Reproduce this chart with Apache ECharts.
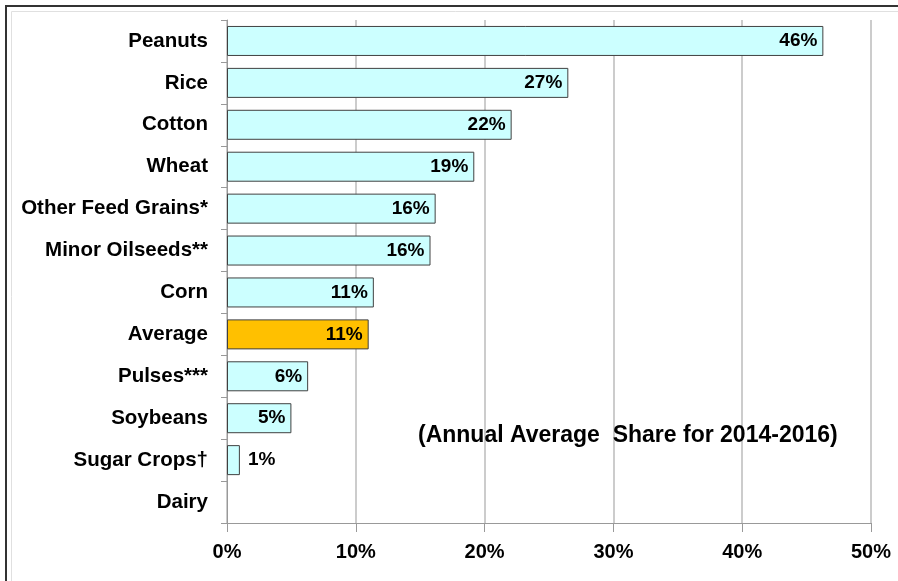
<!DOCTYPE html>
<html>
<head>
<meta charset="utf-8">
<script src="https://cdn.jsdelivr.net/npm/echarts@6/dist/echarts.min.js"></script>
<style>
html,body{margin:0;padding:0;background:#fff;}
#chart{width:898px;height:581px;}
</style>
</head>
<body>
<div id="chart"></div>
<script>
const categories = ["Peanuts","Rice","Cotton","Wheat","Other Feed Grains*","Minor Oilseeds**","Corn","Average","Pulses***","Soybeans","Sugar Crops\u2020","Dairy"];
const shares = [46.3, 26.5, 22.1, 19.2, 16.2, 15.8, 11.4, 11.0, 6.3, 5.0, 1.0, 0];
const xTicks = [0, 10, 20, 30, 40, 50];
const annotation = "(Annual Average  Share for 2014-2016)";

const chart = echarts.init(document.getElementById('chart'));
const data = shares.map((v, i) => {
  const item = { value: v };
  if (categories[i] === 'Average') item.itemStyle = { color: '#FFC000' };
  if (v < 3 && v > 0) item.label = { position: 'right', distance: 8 };
  if (v === 0) { item.label = { show: false }; item.itemStyle = { borderWidth: 0, opacity: 0 }; }
  return item;
});
chart.setOption({
  animation: false,
  grid: { left: 227, right: 27, top: 20, bottom: 58 },
  graphic: [
    { type: 'rect', shape: { x: 6, y: 6, width: 910, height: 600 }, style: { fill: 'none', stroke: '#333', lineWidth: 2 }, z: 100 },
    { type: 'rect', shape: { x: 11.5, y: 11.5, width: 900, height: 600 }, style: { fill: 'none', stroke: '#e0e0e0', lineWidth: 1 }, z: 100 },
    { type: 'text', left: 418, top: 424, style: { text: annotation, font: 'bold 23px "Liberation Sans", Arial, sans-serif', fill: '#000' }, z: 100 }
  ],
  xAxis: {
    type: 'value', min: xTicks[0], max: xTicks[xTicks.length - 1], interval: 10,
    axisLine: { show: true, lineStyle: { color: '#999', width: 1 } },
    axisTick: { show: true, length: 9, lineStyle: { color: '#999' } },
    splitLine: { show: true, lineStyle: { color: '#bbb', width: 1.5 } },
    axisLabel: { formatter: v => v + '%', margin: 19, color: '#000', fontWeight: 'bold', fontSize: 20, fontFamily: '"Liberation Sans", Arial, sans-serif' }
  },
  yAxis: {
    type: 'category', data: categories, inverse: true,
    axisLine: { show: true, lineStyle: { color: '#999', width: 1 } },
    axisTick: { show: true, length: 6, lineStyle: { color: '#999' } },
    axisLabel: { margin: 19, color: '#000', fontWeight: 'bold', fontSize: 20.5, fontFamily: '"Liberation Sans", Arial, sans-serif' }
  },
  series: [{
    type: 'bar', data: data, barWidth: 30,
    itemStyle: { color: '#CCFFFF', borderColor: '#404040', borderWidth: 1 },
    label: { show: true, position: 'insideRight', distance: 6, formatter: p => Math.round(p.value) + '%', color: '#000', fontWeight: 'bold', fontSize: 19, fontFamily: '"Liberation Sans", Arial, sans-serif' }
  }]
});
</script>
</body>
</html>
